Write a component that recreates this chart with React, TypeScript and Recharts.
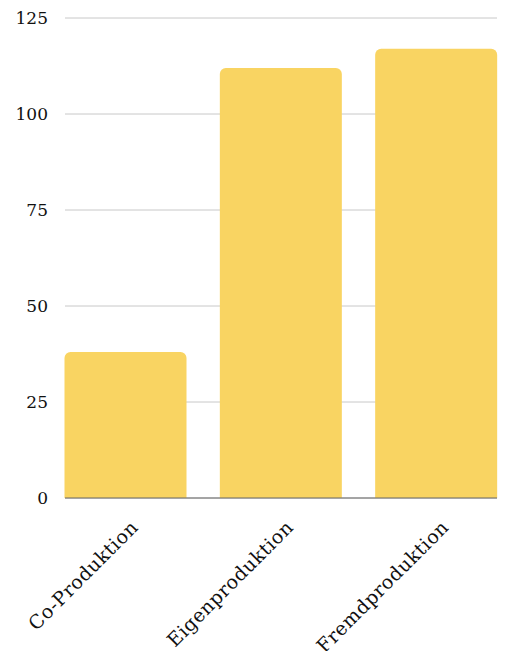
import { BarChart, Bar, XAxis, YAxis, CartesianGrid } from "recharts";

const categories = ["Co-Produktion", "Eigenproduktion", "Fremdproduktion"];
const counts = [38, 112, 117];
const yTicks = [0, 25, 50, 75, 100, 125];

const FONT = "'DejaVu Serif', 'Liberation Serif', serif";

const data = categories.map((name, i) => ({ name, value: counts[i] }));

export default function App() {
  return (
    <div style={{ position: "absolute", left: 0, top: 0, background: "#fff" }}>
      <BarChart
        width={505}
        height={651}
        data={data}
        margin={{ top: 18, right: 8, left: 0, bottom: 0 }}
        barCategoryGap={16.5}
      >
        <CartesianGrid vertical={false} stroke="#c8c8c8" />
        <XAxis
          dataKey="name"
          interval={0}
          angle={-45}
          textAnchor="end"
          height={153}
          tickLine={false}
          stroke="#666666"
          padding={{ left: -17, right: -17 }}
          tick={{ fontSize: 19, fill: "#111", fontFamily: FONT, letterSpacing: 0.5 }}
          dx={4}
          dy={13}
        />
        <YAxis
          width={65}
          domain={[0, 125]}
          ticks={yTicks}
          axisLine={false}
          tickLine={false}
          tickMargin={11}
          tick={{ fontSize: 17, fill: "#111", fontFamily: FONT }}
        />
        <Bar dataKey="value" fill="#f9d462" radius={[6, 6, 0, 0]} isAnimationActive={false} />
      </BarChart>
    </div>
  );
}
